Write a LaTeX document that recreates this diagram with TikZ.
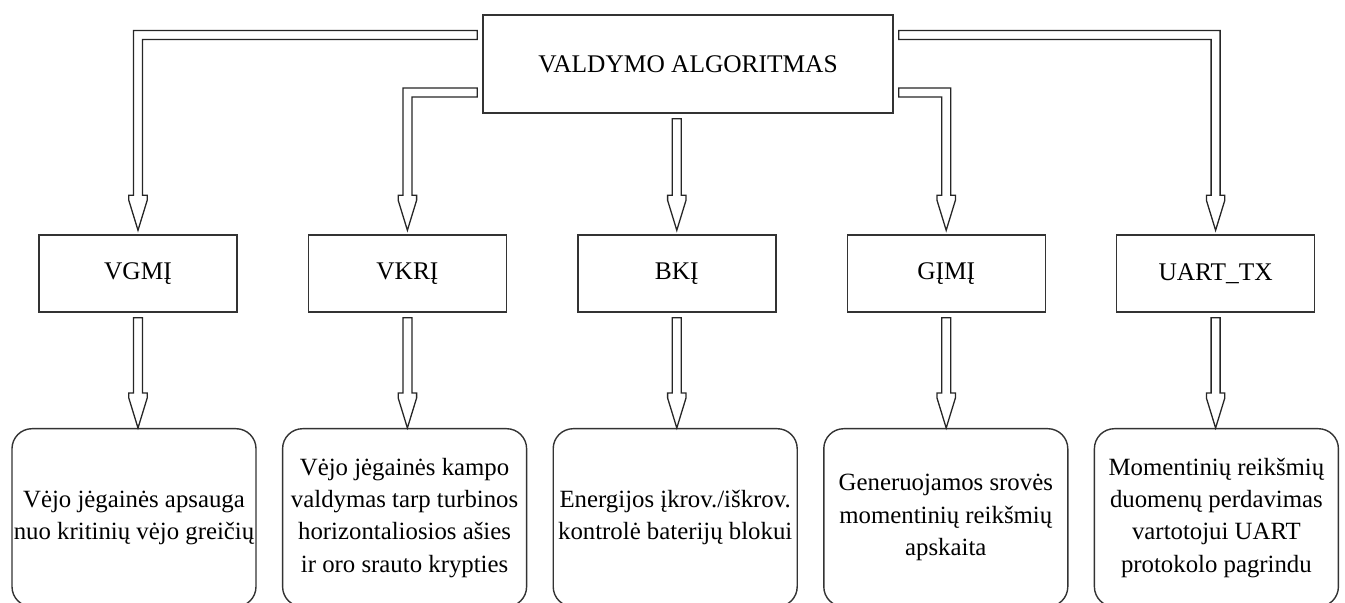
\documentclass[tikz,border=0pt]{standalone}
\usepackage{fontspec}
\setmainfont{Liberation Serif}
\usetikzlibrary{calc,positioning}
\newcommand{\arrsw}{2.25pt}
\newcommand{\arrhw}{4.6pt}
\newcommand{\arrhl}{17.5pt}
\newcommand{\arrhv}{2.5pt}
\tikzset{
  txt/.style={font=\fontsize{12.7}{16.2}\selectfont},
  alg/.style={rectangle,draw=black!80,line width=0.7pt,minimum width=205pt,minimum height=49pt,inner sep=1pt,txt},
  modl/.style={rectangle,draw=black!80,line width=0.7pt,minimum width=99pt,minimum height=38.5pt,inner sep=1pt,txt},
  desc/.style={rectangle,rounded corners=10pt,draw=black!80,line width=0.7pt,minimum width=122pt,minimum height=89pt,inner sep=0.5pt,align=center,font=\fontsize{12.4}{16.2}\selectfont},
  hollow/.style={draw=black!85,fill=white,line width=0.65pt,line join=miter},
}
% straight block arrow: start point, tip
\newcommand{\hollowdown}[2]{%
  \draw[hollow] let \p1=#1, \p2=#2 in
    (\x2-\arrsw,\y1) -- (\x2-\arrsw,\y2+\arrhl) -- (\x2-\arrhw,\y2+\arrhl)
    -- (\x2-\arrhw,\y2+\arrhl-\arrhv) -- (\x2,\y2) -- (\x2+\arrhw,\y2+\arrhl-\arrhv)
    -- (\x2+\arrhw,\y2+\arrhl) -- (\x2+\arrsw,\y2+\arrhl) -- (\x2+\arrsw,\y1) -- cycle;}
% bent block arrow: sideways out of a box, then down to the tip
\newcommand{\hollowbend}[2]{%
  \draw[hollow] let \p1=#1, \p2=#2, \n1={sign(\x1-\x2)} in
    (\x1,\y1+\arrsw) -- (\x2-\n1*\arrsw,\y1+\arrsw) -- (\x2-\n1*\arrsw,\y2+\arrhl)
    -- (\x2-\n1*\arrhw,\y2+\arrhl) -- (\x2-\n1*\arrhw,\y2+\arrhl-\arrhv) -- (\x2,\y2)
    -- (\x2+\n1*\arrhw,\y2+\arrhl-\arrhv) -- (\x2+\n1*\arrhw,\y2+\arrhl)
    -- (\x2+\n1*\arrsw,\y2+\arrhl) -- (\x2+\n1*\arrsw,\y1-\arrsw) -- (\x1,\y1-\arrsw) -- cycle;}
\begin{document}
\begin{tikzpicture}
  \useasboundingbox (0,0) rectangle (672.5pt,-301.5pt);
  \node[alg] (A) at (344pt,-32pt) {VALDYMO ALGORITMAS};
  % modules
  \node[modl] (vgm) at (69pt,-136.75pt) {VGMĮ};
  \node[modl,right=35pt of vgm] (vkr) {VKRĮ};
  \node[modl,right=35pt of vkr] (bk) {BKĮ};
  \node[modl,right=35pt of bk] (gim) {GĮMĮ};
  \node[modl,right=35pt of gim] (uart) {UART\_TX};
  % descriptions
  \node[desc,anchor=north] (vgmD) at (67pt,-214pt) {Vėjo jėgainės apsauga\\nuo kritinių vėjo greičių};
  \node[desc,right=12.6pt of vgmD] (vkrD) {Vėjo jėgainės kampo\\valdymas tarp turbinos\\horizontaliosios ašies\\ ir oro srauto krypties};
  \node[desc,right=12.6pt of vkrD] (bkD) {Energijos įkrov./iškrov.\\kontrolė baterijų blokui};
  \node[desc,right=12.6pt of bkD] (gimD) {Generuojamos srovės\\momentinių reikšmių\\apskaita};
  \node[desc,right=12.6pt of gimD] (uartD) {Momentinių reikšmių\\duomenų perdavimas\\vartotojui UART\\protokolo pagrindu};
  % algorithm -> modules
  \hollowbend{($(A.west)+(-2.5pt,14.5pt)$)}{($(vgm.north)+(0,2pt)$)}
  \hollowbend{($(A.west)+(-2.5pt,-14.25pt)$)}{($(vkr.north)+(0,2pt)$)}
  \hollowdown{($(A.south)+(0,-2.5pt)$)}{($(bk.north)+(0,2pt)$)}
  \hollowbend{($(A.east)+(2.5pt,-14.25pt)$)}{($(gim.north)+(0,2pt)$)}
  \hollowbend{($(A.east)+(2.5pt,14.5pt)$)}{($(uart.north)+(0,2pt)$)}
  % modules -> descriptions
  \hollowdown{($(vgm.south)+(0,-2.5pt)$)}{(vgm.south |- vgmD.north)}
  \hollowdown{($(vkr.south)+(0,-2.5pt)$)}{(vkr.south |- vkrD.north)}
  \hollowdown{($(bk.south)+(0,-2.5pt)$)}{(bk.south |- bkD.north)}
  \hollowdown{($(gim.south)+(0,-2.5pt)$)}{(gim.south |- gimD.north)}
  \hollowdown{($(uart.south)+(0,-2.5pt)$)}{(uart.south |- uartD.north)}
\end{tikzpicture}
\end{document}
